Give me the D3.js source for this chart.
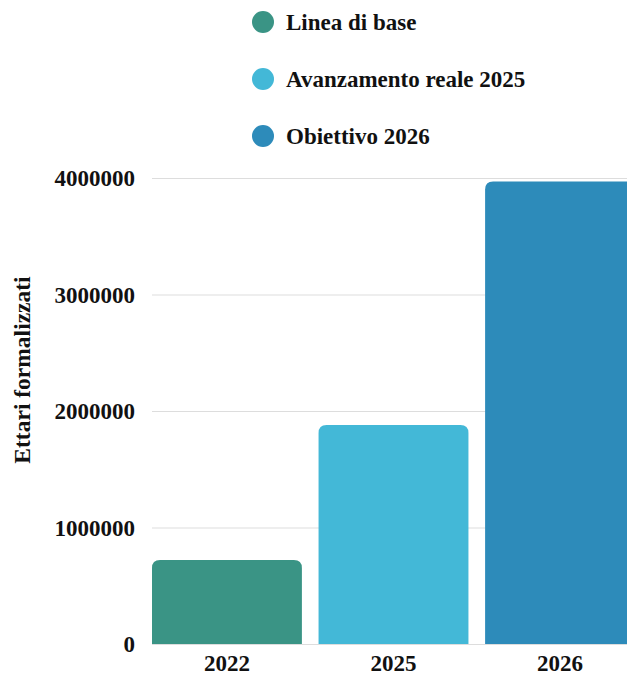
<!DOCTYPE html>
<html><head><meta charset="utf-8">
<script src="https://cdn.jsdelivr.net/npm/d3@7"></script>
<style>body{margin:0;background:#fff;overflow:hidden}svg{display:block}text{font-family:"Liberation Serif","Times New Roman",serif;font-weight:bold;fill:#111}</style>
</head><body>
<svg id="c" width="627" height="675"></svg>
<script>
const categories = ["2022", "2025", "2026"];
const seriesNames = ["Linea di base", "Avanzamento reale 2025", "Obiettivo 2026"];
const values = [720000, 1880000, 3970000];
const colors = ["#3A9485", "#43B8D7", "#2D8BBA"];
const yTicks = [0, 1000000, 2000000, 3000000, 4000000];
const yTitle = "Ettari formalizzati";

(function () {
const svg = d3.select("#c");
const mLeft = 152, mRight = 635, mTop = 178, mBottom = 644;
const fs = "23px";
const x = d3.scaleBand().domain(categories).range([mLeft, mRight]).paddingInner(0.1).paddingOuter(0);
const y = d3.scaleLinear().domain([0, 4000000]).range([mBottom, mTop]);

// gridlines
svg.append("g").selectAll("line").data(yTicks).join("line")
  .attr("x1", mLeft).attr("x2", 627)
  .attr("y1", d => y(d) + 0.5).attr("y2", d => y(d) + 0.5)
  .attr("stroke", "#dddddd").attr("stroke-width", 1);

// y axis labels
const yAxis = d3.axisLeft(y).tickValues(yTicks).tickFormat(d => String(d)).tickSize(0).tickPadding(0);
const gy = svg.append("g").attr("transform", `translate(135,0)`).call(yAxis);
gy.select(".domain").remove();
gy.selectAll("text").style("font-size", fs).style("font-family", '"Liberation Serif",serif').style("font-weight", "bold").attr("fill", "#111").attr("dy", "0.33em");

// bars with rounded top corners
const r = 8;
function barPath(x0, w, yTop, yBot) {
  const rr = Math.min(r, (yBot - yTop));
  return `M${x0},${yBot}V${yTop + rr}Q${x0},${yTop} ${x0 + rr},${yTop}H${x0 + w - rr}Q${x0 + w},${yTop} ${x0 + w},${yTop + rr}V${yBot}Z`;
}
svg.append("g").selectAll("path").data(categories).join("path")
  .attr("d", (d, i) => barPath(x(d), x.bandwidth(), y(values[i]), y(0)))
  .attr("fill", (d, i) => colors[i]);

// x axis labels
const xAxis = d3.axisBottom(x).tickSize(0).tickPadding(0);
const gx = svg.append("g").attr("transform", `translate(0,${mBottom})`).call(xAxis);
gx.select(".domain").remove();
gx.selectAll("text").style("font-size", fs).style("font-family", '"Liberation Serif",serif').style("font-weight", "bold").attr("fill", "#111").attr("y", 27).attr("dy", 0);

// y title
svg.append("text").attr("transform", "translate(30,370) rotate(-90)")
  .attr("text-anchor", "middle").style("font-size", "23.5px").text(yTitle);

// legend
const lg = svg.append("g").selectAll("g").data(seriesNames).join("g")
  .attr("transform", (d, i) => `translate(263,${22 + i * 57})`);
lg.append("circle").attr("r", 11).attr("fill", (d, i) => colors[i]);
lg.append("text").attr("x", 23).attr("dy", "0.33em").style("font-size", fs).text(d => d);
})();
</script>
</body></html>
